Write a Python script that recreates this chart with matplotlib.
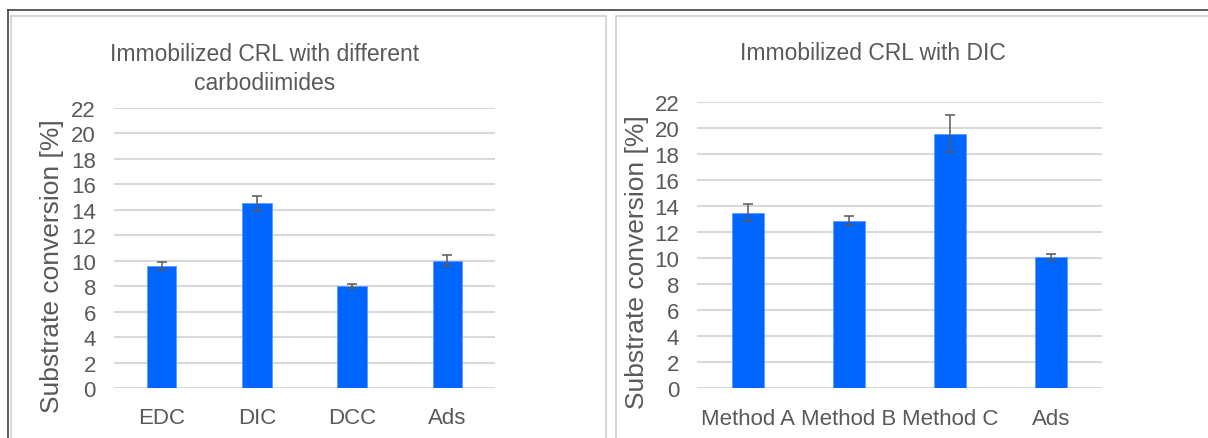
import matplotlib
matplotlib.use('Agg')
import matplotlib.pyplot as plt
from matplotlib.patches import Rectangle
from matplotlib.lines import Line2D

plt.rcParams['font.family'] = ['Liberation Sans', 'DejaVu Sans']

# datos
left_labels = ['EDC', 'DIC', 'DCC', 'Ads']
left_values = [9.6, 14.5, 8.0, 10.0]
left_errors = [0.3, 0.6, 0.17, 0.45]

right_labels = ['Method A', 'Method B', 'Method C', 'Ads']
right_values = [13.5, 12.9, 19.6, 10.1]
right_errors = [0.65, 0.35, 1.4, 0.25]

yticks = list(range(0, 23, 2))

text_gray = '#595959'
grid_gray = '#d9d9d9'
bar_blue = '#0066ff'

W, H = 1208, 439
fig = plt.figure(figsize=(W / 100, H / 100), dpi=100)


def fx(px):
    return px / W


def fy(py):
    return 1 - py / H


# marcos de los paneles (coordenadas en pixeles)
def px_rect(x0, y0, x1, y1, **kw):
    return Rectangle((fx(x0), fy(y1)), (x1 - x0) / W, (y1 - y0) / H,
                     transform=fig.transFigure, fill=False, **kw)


fig.patches.append(px_rect(11, 17, 606, 445, edgecolor='#d0d0d0', lw=1.2))
fig.patches.append(px_rect(616, 17, 1215, 445, edgecolor='#d0d0d0', lw=1.2))
fig.lines.append(Line2D([fx(8), 1], [fy(10.5), fy(10.5)], transform=fig.transFigure,
                        color='#404040', lw=1.2))
fig.lines.append(Line2D([fx(8), fx(8)], [fy(10.5), 0], transform=fig.transFigure,
                        color='#404040', lw=1.2))


def draw_panel(box, labels, values, errors, title, title_xy, ylabel_xy):
    x0, y0, x1, y1 = box
    ax = fig.add_axes([fx(x0), fy(y1), (x1 - x0) / W, (y1 - y0) / H])
    x = range(len(labels))
    ax.bar(x, values, width=0.31, color=bar_blue, edgecolor='#5a9bff', lw=0.6, zorder=3)
    ax.errorbar(x, values, yerr=errors, fmt='none', ecolor=text_gray, elinewidth=1.1,
                capsize=3.8, capthick=1.1, zorder=4)
    ax.set_xlim(-0.5, len(labels) - 0.5)
    ax.set_ylim(0, 22)
    ax.set_yticks(yticks)
    ax.yaxis.grid(True, color=grid_gray, lw=1.5, zorder=0)
    ax.set_axisbelow(True)
    for s in ax.spines.values():
        s.set_visible(False)
    ax.set_xticks(list(x))
    ax.set_xticklabels(labels)
    ax.tick_params(axis='both', length=0, colors=text_gray)
    ax.tick_params(axis='y', pad=13, labelsize=16)
    ax.tick_params(axis='x', pad=14, labelsize=16)
    fig.text(fx(ylabel_xy[0]), fy(ylabel_xy[1]), 'Substrate conversion [%]', rotation=90,
             ha='center', va='center', fontsize=19, color=text_gray)
    fig.text(fx(title_xy[0]), fy(title_xy[1]), title, ha='center', va='center',
             fontsize=16.5, color=text_gray, linespacing=1.35)
    return ax


draw_panel((114, 109, 495, 389), left_labels, left_values, left_errors,
           'Immobilized CRL with different\ncarbodiimides', (265, 69), (52, 266))
draw_panel((697.3, 103.3, 1101.7, 389.3), right_labels, right_values, right_errors,
           'Immobilized CRL with DIC', (873, 53), (637, 262))

fig.savefig('out.png', dpi=100)
